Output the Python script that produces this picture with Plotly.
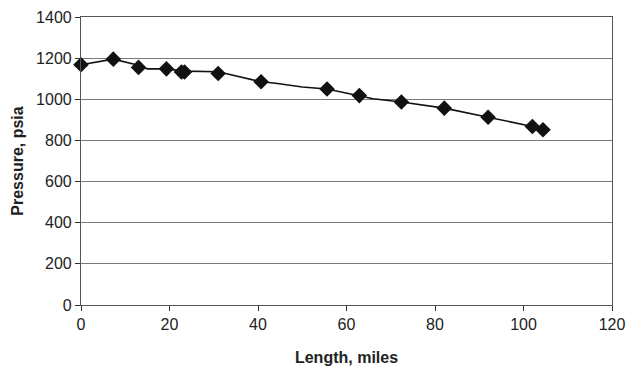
import plotly.graph_objects as go

# Measured points (markers)
length_miles = [0, 7.3, 13, 19.3, 22.7, 23.4, 31, 40.7, 55.6, 62.9, 72.4, 82.1, 92, 102, 104.4]
pressure_psia = [1168, 1195, 1155, 1148, 1133, 1133, 1125, 1085, 1050, 1018, 987, 957, 913, 868, 852]

# Calculated profile (line)
line_miles = [0, 7.3, 13, 15, 19.3, 22.7, 23.4, 31, 36, 40.7, 44, 50, 55.6, 62.9, 66, 72.4, 82.1, 92, 97, 102, 104.4]
line_psia = [1168, 1195, 1165, 1148, 1148, 1137, 1137, 1134, 1108, 1085, 1078, 1060, 1050, 1018, 1003, 987, 957, 913, 890, 868, 852]

x_ticks = [0, 20, 40, 60, 80, 100, 120]
y_ticks = [0, 200, 400, 600, 800, 1000, 1200, 1400]

fig = go.Figure()
fig.add_trace(go.Scatter(x=line_miles, y=line_psia, mode="lines", cliponaxis=False,
                         line=dict(color="#111111", width=1.6), hoverinfo="skip"))
fig.add_trace(go.Scatter(x=length_miles, y=pressure_psia, mode="markers", cliponaxis=False,
                         marker=dict(symbol="diamond", size=12, color="#111111")))

font_family = "Liberation Sans, Arial, sans-serif"
fig.update_layout(
    width=630, height=370,
    margin=dict(l=81, r=18, t=17, b=65),
    paper_bgcolor="white", plot_bgcolor="white",
    showlegend=False,
    font=dict(family=font_family, size=16, color="#222222"),
    xaxis=dict(range=[0, 120], tickvals=x_ticks, ticks="outside", ticklen=5,
               tickcolor="#333333", showgrid=False, zeroline=False, automargin=False,
               showline=True, linecolor="#555555", linewidth=1.2, mirror=True,
               tickfont=dict(size=16, color="#222222"),
               title=dict(text="<b>Length, miles</b>", font=dict(size=16, color="#222222"), standoff=19)),
    yaxis=dict(range=[0, 1400], tickvals=y_ticks, ticks="outside", ticklen=5,
               tickcolor="#333333", showgrid=True, gridcolor="#7a7a7a", gridwidth=1,
               zeroline=False, showline=True, linecolor="#555555", linewidth=1.2, mirror=True,
               automargin=False,
               tickfont=dict(size=16, color="#222222"),
               title=dict(text="<b>Pressure, psia</b>", font=dict(size=16, color="#222222"), standoff=8)),
)

fig.write_html("out.html", config={"displayModeBar": False},
               post_script="document.body.style.margin='0';document.body.style.padding='0';document.body.style.overflow='hidden';")
